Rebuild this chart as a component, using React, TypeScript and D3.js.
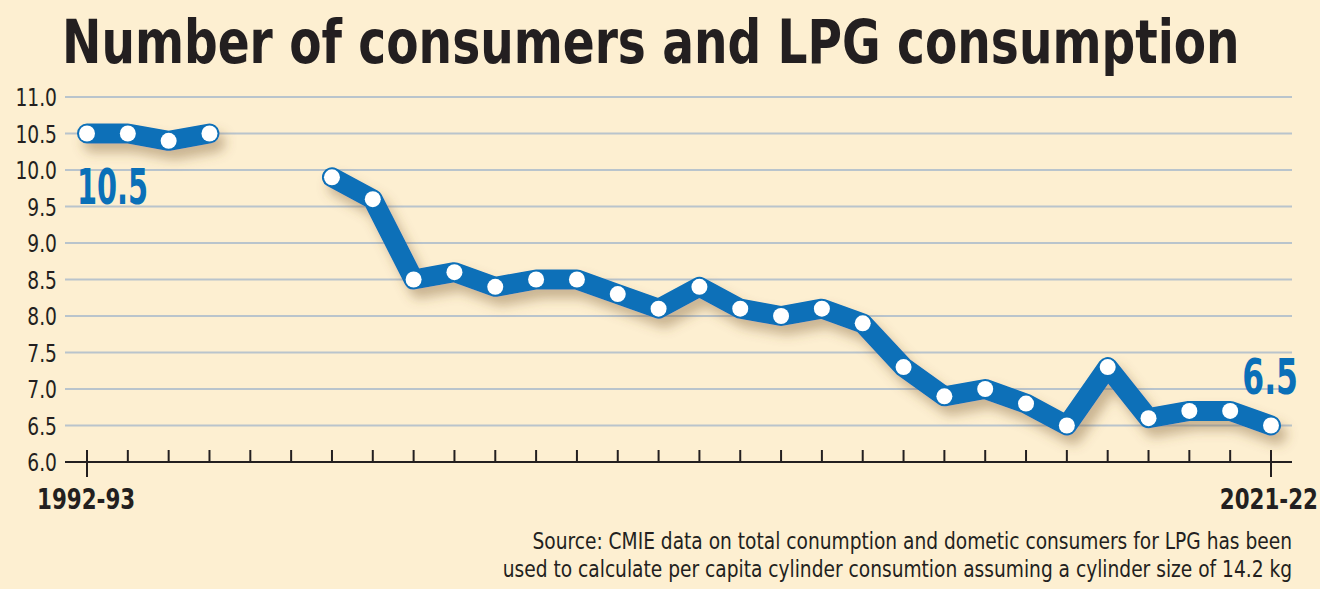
import React, { useRef, useEffect } from 'react';
import * as d3 from 'd3';

const years = d3.range(1992, 2022).map(y => `${y}-${String((y + 1) % 100).padStart(2, '0')}`);
const values: (number | null)[] = [
  10.5, 10.5, 10.4, 10.5, null, null, 9.9, 9.6, 8.5, 8.6,
  8.4, 8.5, 8.5, 8.3, 8.1, 8.4, 8.1, 8.0, 8.1, 7.9,
  7.3, 6.9, 7.0, 6.8, 6.5, 7.3, 6.6, 6.7, 6.7, 6.5,
];
const yTicks = [6.0, 6.5, 7.0, 7.5, 8.0, 8.5, 9.0, 9.5, 10.0, 10.5, 11.0];
const title = 'Number of consumers and LPG consumption';
const sourceLines = [
  'Source: CMIE data on total conumption and dometic consumers for LPG has been',
  'used to calculate per capita cylinder consumtion assuming a cylinder size of 14.2 kg',
];

const W = 1320;
const H = 589;
const BLUE = '#0a70b8';
const INK = '#231f20';
const FONT = '"Liberation Sans Narrow", "DejaVu Sans Condensed", "DejaVu Sans", sans-serif';

// squeeze text horizontally to mimic the condensed face
const addText = (g: any, x: number, y: number, s: string, size: number, opts: any = {}) => {
  const sx = opts.sx ?? 0.8;
  return g.append('text')
    .attr('transform', `translate(${x},${y}) scale(${sx},1)`)
    .attr('text-anchor', opts.anchor ?? 'start')
    .style('font-family', FONT)
    .style('font-weight', opts.bold ? 'bold' : 'normal')
    .style('font-size', `${size}px`)
    .attr('fill', opts.fill ?? INK)
    .text(s);
};

const App = () => {
  const svgRef = useRef<SVGSVGElement>(null);

  useEffect(() => {
    const svg = d3.select(svgRef.current);
    svg.selectAll('*').remove();

    const x = d3.scalePoint<number>().domain(d3.range(years.length)).range([87, 1271]);
    const y = d3.scaleLinear().domain([6, 11]).range([462, 97]);
    const gridLeft = 65;
    const gridRight = 1292;

    svg.append('rect').attr('width', W).attr('height', H).attr('fill', '#fdefd1');

    const defs = svg.append('defs');
    const f = defs.append('filter').attr('id', 'shadow')
      .attr('x', '-10%').attr('y', '-30%').attr('width', '120%').attr('height', '160%');
    f.append('feGaussianBlur').attr('in', 'SourceAlpha').attr('stdDeviation', 6).attr('result', 'blur');
    f.append('feOffset').attr('dx', 6).attr('dy', 9).attr('result', 'off');
    f.append('feFlood').attr('flood-color', '#7a5a30').attr('flood-opacity', 0.4);
    f.append('feComposite').attr('in2', 'off').attr('operator', 'in').attr('result', 'sh');
    const m = f.append('feMerge');
    m.append('feMergeNode').attr('in', 'sh');
    m.append('feMergeNode').attr('in', 'SourceGraphic');

    // title: measure, then squeeze to the reference width
    const t = addText(svg, 62, 63, title, 60, { bold: true, sx: 1 });
    const tw = (t.node() as SVGTextElement).getComputedTextLength();
    t.attr('transform', `translate(62,63) scale(${1178 / tw},1)`);

    // grid + y labels
    const grid = svg.append('g');
    yTicks.forEach(v => {
      if (v > 6) {
        grid.append('line')
          .attr('x1', gridLeft).attr('x2', gridRight)
          .attr('y1', y(v)).attr('y2', y(v))
          .attr('stroke', '#b9c4cc').attr('stroke-width', 2);
      }
      addText(grid, 57, y(v) + 9, v.toFixed(1), 25, { anchor: 'end', sx: 0.83 });
    });

    // x axis
    svg.append('line')
      .attr('x1', gridLeft).attr('x2', gridRight)
      .attr('y1', y(6)).attr('y2', y(6))
      .attr('stroke', INK).attr('stroke-width', 2);
    years.forEach((yr, i) => {
      const end = i === 0 || i === years.length - 1;
      svg.append('line')
        .attr('x1', x(i)).attr('x2', x(i))
        .attr('y1', y(6) - 12).attr('y2', y(6) + (end ? 15 : 0))
        .attr('stroke', INK).attr('stroke-width', 2);
    });
    addText(svg, 37, 509, years[0], 29, { bold: true, sx: 0.82 });
    addText(svg, 1318, 509, years[years.length - 1], 29, { bold: true, anchor: 'end', sx: 0.82 });

    // line
    const line = d3.line<number | null>()
      .defined(d => d !== null)
      .x((d, i) => x(i) as number)
      .y(d => y(d as number));

    const lg = svg.append('g').attr('filter', 'url(#shadow)');
    lg.append('path')
      .attr('d', line(values))
      .attr('fill', 'none')
      .attr('stroke', BLUE)
      .attr('stroke-width', 20)
      .attr('stroke-linejoin', 'round')
      .attr('stroke-linecap', 'round');

    svg.append('g').selectAll('circle')
      .data(values.map((v, i) => ({ v, i })).filter(d => d.v !== null))
      .join('circle')
      .attr('cx', d => x(d.i) as number)
      .attr('cy', d => y(d.v as number))
      .attr('r', 8)
      .attr('fill', '#ffffff');

    // value labels
    addText(svg, 77, 204, values[0]!.toFixed(1), 50, { bold: true, fill: BLUE, sx: 0.64 });
    addText(svg, 1298, 394, values[values.length - 1]!.toFixed(1), 50, { bold: true, fill: BLUE, sx: 0.7, anchor: 'end' });

    // source
    sourceLines.forEach((s, i) => {
      addText(svg, 1292, 549 + i * 28, s, 23, { anchor: 'end', sx: 0.9 });
    });
  }, []);

  return (
    <svg ref={svgRef} width={W} height={H} style={{ display: 'block', position: 'absolute', left: 0, top: 0 }}></svg>
  );
};

export default App;
